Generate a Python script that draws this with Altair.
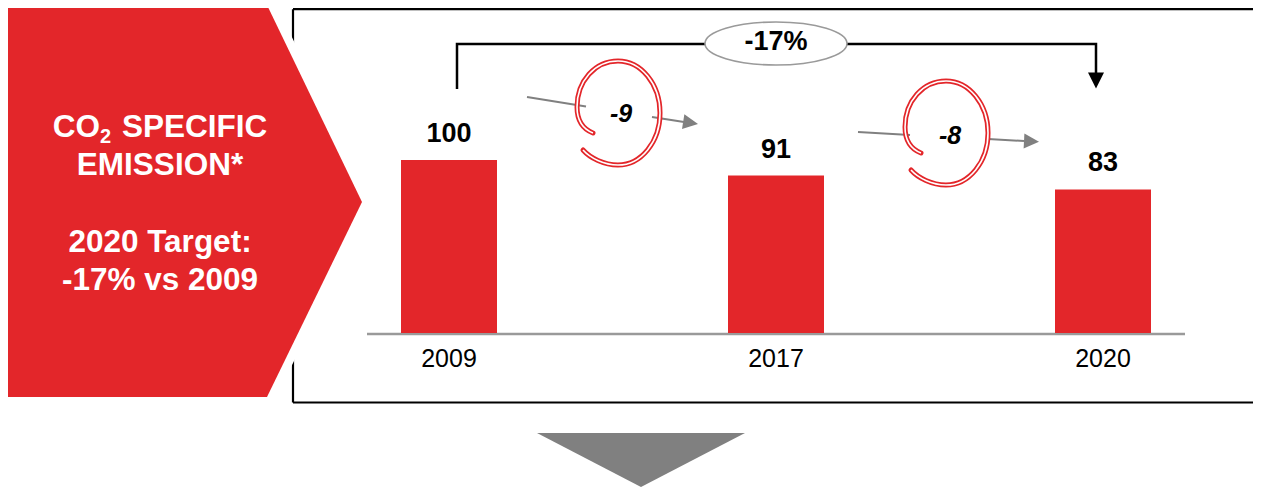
import altair as alt
import pandas as pd

# ---------------- data ----------------
years = ["2009", "2017", "2020"]
values = [100, 91, 83]
step_changes = ["-9", "-8"]
total_change = "-17%"
side_title = ["CO", "2", "SPECIFIC", "EMISSION*", "2020 Target:", "-17% vs 2009"]

# ---------------- style / layout ----------------
RED = "#E3262A"
GREY = "#808080"
FONT = "Liberation Sans"
W, H = 1245, 479
M = 8  # page margin


def p(v):
    return v - M


PX = alt.Scale(domain=[0, W], range=[0, W], nice=False, zero=False)
PY = alt.Scale(domain=[0, H], range=[0, H], nice=False, zero=False)


def xq(f):
    return alt.X(f"{f}:Q", scale=PX, axis=None)


def yq(f):
    return alt.Y(f"{f}:Q", scale=PY, axis=None)


def pts(**cols):
    return pd.DataFrame(cols)


# ---------------- decorations ----------------
# frame: top, bottom and left sides (the right side lies beyond the picture)
TOP = 1.2
frame = alt.Chart(pts(
    x=[p(293), p(293), p(293)],
    x2=[W, W, p(293)],
    y=[TOP, p(402.5), TOP],
    y2=[TOP, p(402.5), p(402.5)],
)).mark_rule(color="black", strokeWidth=2.2).encode(x=xq("x"), x2="x2:Q", y=yq("y"), y2="y2:Q")

pent_df = pts(x=[p(8), p(267), p(362)], y=[p(5), p(5), p(202)], y2=[p(397), p(397), p(202)])
pent_halo = alt.Chart(pent_df).mark_area(
    color="white", stroke="white", strokeWidth=17, strokeJoin="miter", strokeMiterLimit=10
).encode(x=xq("x"), y=yq("y"), y2="y2:Q")
pent = alt.Chart(pent_df).mark_area(color=RED).encode(x=xq("x"), y=yq("y"), y2="y2:Q")

tri = alt.Chart(pts(x=[p(537), p(641), p(745)], y=[p(433)] * 3, y2=[p(433), p(487), p(433)])).mark_area(
    color=GREY
).encode(x=xq("x"), y=yq("y"), y2="y2:Q")

baseline = alt.Chart(pts(x=[p(367)], x2=[p(1185)], y=[p(334)])).mark_rule(
    color="#9A9A9A", strokeWidth=2.5
).encode(x=xq("x"), x2="x2:Q", y=yq("y"))

# ---------------- bars ----------------
bars_df = pd.DataFrame({"year": years, "value": values, "base": [0] * len(years)})
XS = alt.Scale(type="point", domain=years, range=[p(449), p(1103)], padding=0)
YS = alt.Scale(domain=[0, 100], range=[p(333), p(160)], nice=False, zero=True)
bx = alt.X("year:O", scale=XS, axis=None)

bars = alt.Chart(bars_df).mark_bar(width=96, color=RED).encode(
    x=bx, y=alt.Y("value:Q", scale=YS, axis=None)
)
val_labels = alt.Chart(bars_df).mark_text(
    font=FONT, fontSize=27, fontWeight="bold", baseline="alphabetic", dy=-18, color="black"
).encode(x=bx, y=alt.Y("value:Q", scale=YS, axis=None), text="value:Q")
year_labels = alt.Chart(bars_df).mark_text(
    font=FONT, fontSize=25, baseline="alphabetic", dy=34, color="black"
).encode(x=bx, y=alt.Y("base:Q", scale=YS, axis=None), text="year:N")

# ---------------- -17% bracket ----------------
bracket = alt.Chart(pts(i=[0, 1, 2, 3], x=[p(457), p(457), p(1096), p(1096)],
                        y=[p(89), p(44), p(44), p(75)])).mark_line(
    color="black", strokeWidth=2.5, strokeJoin="miter"
).encode(x=xq("x"), y=yq("y"), order="i:Q")

bracket_head = alt.Chart(pts(x=[p(1096)], y=[p(80.5)])).mark_point(
    shape="M -1 -1 L 1 -1 L 0 1 Z", filled=True, color="black", size=256, opacity=1, strokeWidth=0
).encode(x=xq("x"), y=yq("y"))

ELLIPSE = ("M -1 0 C -1 -0.167 -0.552 -0.303 0 -0.303 C 0.552 -0.303 1 -0.167 1 0 "
           "C 1 0.167 0.552 0.303 0 0.303 C -0.552 0.303 -1 0.167 -1 0 Z")
ellipse = alt.Chart(pts(x=[p(776)], y=[p(43.5)])).mark_point(
    shape=ELLIPSE, filled=True, fill="white", stroke="#9A9A9A", strokeWidth=1.6, size=142 ** 2, opacity=1
).encode(x=xq("x"), y=yq("y"))

total_lbl = alt.Chart(pts(x=[p(776)], y=[p(42)], t=[total_change])).mark_text(
    font=FONT, fontSize=27, fontWeight="bold", baseline="middle", color="black"
).encode(x=xq("x"), y=yq("y"), text="t:N")

# ---------------- step arrows with circled labels ----------------
segs = alt.Chart(pts(
    x=[p(527), p(652), p(858), p(988)],
    y=[p(97), p(117), p(132), p(139)],
    x2=[p(586), p(684), p(910), p(1024)],
    y2=[p(106.5), p(122), p(135), p(141)],
)).mark_rule(color=GREY, strokeWidth=2).encode(x=xq("x"), y=yq("y"), x2="x2:Q", y2="y2:Q")

heads = alt.Chart(pts(x=[p(690.6), p(1031.5)], y=[p(122.8), p(141.3)], a=[9, 3])).mark_point(
    shape="M -1 -1 L 1 0 L -1 1 Z", filled=True, color=GREY, size=225, opacity=1, strokeWidth=0
).encode(x=xq("x"), y=yq("y"), angle=alt.Angle("a:Q", scale=None))

SPIRAL = ("M -0.673 0.712 C -0.538 0.865 -0.269 1 0 1 C 0.442 1 0.808 0.558 0.808 0 "
          "C 0.808 -0.558 0.442 -1 0 -1 C -0.442 -1 -0.788 -0.615 -0.788 -0.115 "
          "C -0.788 0.154 -0.673 0.308 -0.481 0.385")
circ_df = pts(x=[p(618), p(946)], y=[p(113), p(133)])
circ_red = alt.Chart(circ_df).mark_point(
    shape=SPIRAL, filled=False, stroke=RED, strokeWidth=5, size=104 ** 2, opacity=1, strokeCap="round"
).encode(x=xq("x"), y=yq("y"))
circ_white = alt.Chart(circ_df).mark_point(
    shape=SPIRAL, filled=False, stroke="white", strokeWidth=1.6, size=104 ** 2, opacity=1
).encode(x=xq("x"), y=yq("y"))

step_lbl = alt.Chart(pts(x=[p(621), p(950)], y=[p(114), p(136)], t=step_changes)).mark_text(
    font=FONT, fontSize=25, fontWeight="bold", fontStyle="italic", baseline="middle", color="black"
).encode(x=xq("x"), y=yq("y"), text="t:N")

# ---------------- side title ----------------
t_co = alt.Chart(pts(x=[p(100)], y=[p(137)], t=[side_title[0]])).mark_text(
    font=FONT, fontSize=31.5, fontWeight="bold", align="right", baseline="alphabetic", color="white"
).encode(x=xq("x"), y=yq("y"), text="t:N")
t_sub = alt.Chart(pts(x=[p(100)], y=[p(143)], t=[side_title[1]])).mark_text(
    font=FONT, fontSize=20, fontWeight="bold", align="left", baseline="alphabetic", color="white"
).encode(x=xq("x"), y=yq("y"), text="t:N")
t_spec = alt.Chart(pts(x=[p(122)], y=[p(137)], t=[side_title[2]])).mark_text(
    font=FONT, fontSize=31.5, fontWeight="bold", align="left", baseline="alphabetic", color="white"
).encode(x=xq("x"), y=yq("y"), text="t:N")
t_rest = alt.Chart(pts(x=[p(160)] * 3, y=[p(175), p(252), p(290)], t=side_title[3:])).mark_text(
    font=FONT, fontSize=31.5, fontWeight="bold", align="center", baseline="alphabetic", color="white"
).encode(x=xq("x"), y=yq("y"), text="t:N")

chart = alt.layer(
    frame, pent_halo, pent, tri, baseline, bars, val_labels, year_labels,
    bracket, bracket_head, ellipse, total_lbl,
    segs, heads, circ_red, circ_white, step_lbl,
    t_co, t_sub, t_spec, t_rest,
).resolve_scale(x="independent", y="independent").properties(
    width=W, height=H, autosize=alt.AutoSizeParams(type="none"), padding=0, background="white"
).configure_view(stroke=None)

chart.save("out.html", embed_options={"renderer": "svg", "actions": False})
